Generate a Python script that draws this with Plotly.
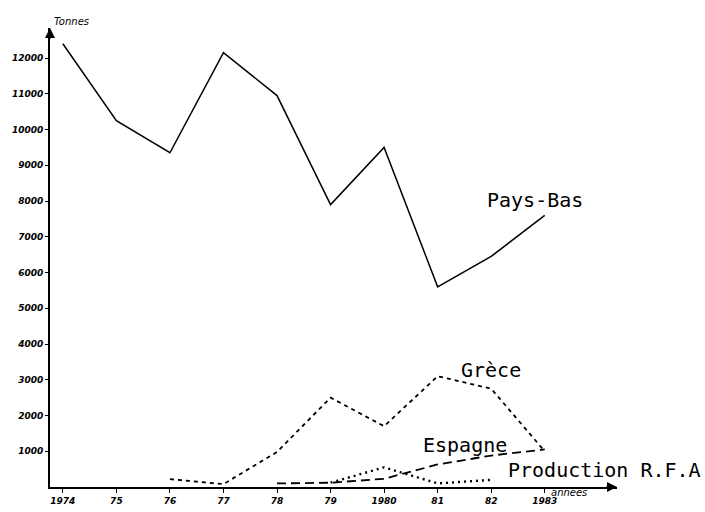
import plotly.graph_objects as go

years = [1974, 1975, 1976, 1977, 1978, 1979, 1980, 1981, 1982, 1983]
year_labels = ["1974", "75", "76", "77", "78", "79", "1980", "81", "82", "1983"]
pays_bas = [12400, 10250, 9350, 12150, 10950, 7900, 9500, 5600, 6450, 7600]
grece = [None, None, 220, 80, 980, 2500, 1700, 3100, 2750, 1000]
espagne = [None, None, None, None, 100, 120, 230, 630, 880, 1050]
rfa = [None, None, None, None, None, 120, 550, 100, 200, None]
y_ticks = [1000, 2000, 3000, 4000, 5000, 6000, 7000, 8000, 9000, 10000, 11000, 12000]

fig = go.Figure()
fig.add_trace(go.Scatter(x=years, y=pays_bas, mode="lines", line=dict(color="black", width=1.5)))
fig.add_trace(go.Scatter(x=years, y=grece, mode="lines", line=dict(color="black", width=1.8, dash="4px,4px")))
fig.add_trace(go.Scatter(x=years, y=espagne, mode="lines", line=dict(color="black", width=1.8, dash="9px,5px")))
fig.add_trace(go.Scatter(x=years, y=rfa, mode="lines", line=dict(color="black", width=2.4, dash="2px,4px")))

lab_font = dict(family="DejaVu Sans Mono", size=20, color="black")
tick_font = dict(family="DejaVu Sans", size=9, color="black", style="italic", weight="bold")
small_font = dict(family="DejaVu Sans", size=10, color="black", style="italic")

fig.update_layout(
    width=705, height=512,
    margin=dict(l=50, r=88, t=28, b=25),
    paper_bgcolor="white", plot_bgcolor="white",
    showlegend=False,
    xaxis=dict(range=[1973.76, 1984.35], tickvals=years, ticktext=year_labels, automargin=False,
               showline=True, linecolor="black", linewidth=2, showgrid=False, zeroline=False,
               ticks="outside", ticklen=4, tickcolor="black", tickfont=tick_font),
    yaxis=dict(range=[0, 12840], tickvals=y_ticks, ticktext=[str(v) for v in y_ticks], automargin=False,
               showline=True, linecolor="black", linewidth=2, showgrid=False, zeroline=False,
               ticks="outside", ticklen=3, tickcolor="black", tickfont=tick_font),
    annotations=[
        dict(x=0, y=1, xref="paper", yref="paper", ax=0, ay=12, showarrow=True,
             arrowhead=2, arrowsize=1, arrowwidth=2, arrowcolor="black", text=""),
        dict(x=1, y=0, xref="paper", yref="paper", ax=-12, ay=0, showarrow=True,
             arrowhead=2, arrowsize=1, arrowwidth=2, arrowcolor="black", text=""),
        dict(x=0, y=1, xref="paper", yref="paper", yshift=14, xshift=2, text="Tonnes",
             showarrow=False, font=small_font),
        dict(x=1, y=0, xref="paper", yref="paper", yshift=-13, xshift=-28, text="années",
             showarrow=False, font=small_font),
        dict(x=1982.81, y=8030, text="Pays-Bas", showarrow=False, font=lab_font),
        dict(x=1981.99, y=3270, text="Grèce", showarrow=False, font=lab_font),
        dict(x=1981.51, y=1175, text="Espagne", showarrow=False, font=lab_font),
        dict(x=1984.12, y=475, text="Production R.F.A", showarrow=False, font=lab_font),
    ],
)

fig.write_html("out.html", config={"displayModeBar": False},
               post_script="document.body.style.margin='0';")
